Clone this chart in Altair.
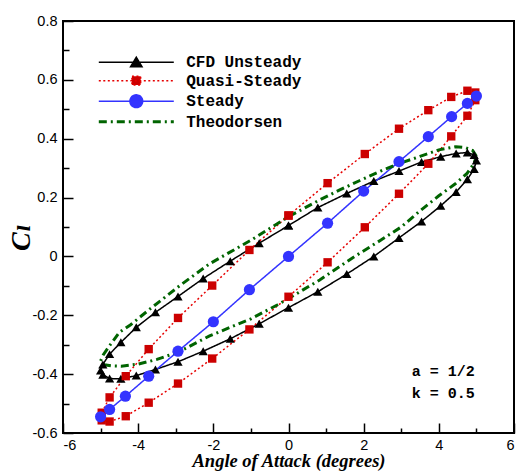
import altair as alt
import pandas as pd

series_names = ["CFD Unsteady", "Quasi-Steady", "Steady", "Theodorsen"]
line_colors = ["#000000", "#e60000", "#3333ff", "#006400"]
line_dashes = [[1, 0], [2, 2.5], [1, 0], [8, 4, 2, 4]]
marker_series = ["CFD Unsteady", "Quasi-Steady", "Steady"]
marker_colors = ["#000000", "#cc0000", "#3333ff"]
marker_shapes = ["triangle-up", "square", "circle"]
marker_sizes = [85, 70, 125]

cfd_alpha = [0, 0.78, 1.55, 2.27, 2.94, 3.54, 4.05, 4.46, 4.76, 4.94, 5.0, 4.94, 4.76, 4.46,
             4.05, 3.54, 2.94, 2.27, 1.55, 0.78, 0, -0.78, -1.55, -2.27, -2.94, -3.54, -4.05,
             -4.46, -4.76, -4.94, -5.0, -4.94, -4.76, -4.46, -4.05, -3.54, -2.94, -2.27, -1.55,
             -0.78, 0]
cfd_cl = [0.105, 0.166, 0.214, 0.256, 0.290, 0.321, 0.339, 0.350, 0.353, 0.345, 0.326, 0.297,
          0.262, 0.219, 0.172, 0.119, 0.063, 0.000, -0.060, -0.120, -0.174, -0.229, -0.280,
          -0.322, -0.358, -0.384, -0.405, -0.416, -0.415, -0.402, -0.388, -0.367, -0.332,
          -0.292, -0.241, -0.190, -0.136, -0.075, -0.016, 0.045, 0.105]

qs_alpha = [0, 1.04, 2.03, 2.94, 3.72, 4.33, 4.76, 4.97, 4.97, 4.76, 4.33, 3.72, 2.94, 2.03,
            1.04, 0, -1.04, -2.03, -2.94, -3.72, -4.33, -4.76, -4.97, -4.97, -4.76, -4.33,
            -3.72, -2.94, -2.03, -1.04, 0]
qs_cl = [0.139, 0.249, 0.348, 0.434, 0.497, 0.542, 0.563, 0.557, 0.531, 0.478, 0.408, 0.315,
         0.213, 0.099, -0.020, -0.137, -0.248, -0.347, -0.432, -0.497, -0.543, -0.561, -0.557,
         -0.531, -0.479, -0.407, -0.315, -0.209, -0.099, 0.022, 0.139]

st_alpha = [-5.0, -4.76, -4.34, -3.72, -2.94, -2.0, -1.04, 0, 1.04, 2.0, 2.94, 3.72, 4.34,
            4.76, 5.0]
st_cl = [-0.545, -0.520, -0.475, -0.407, -0.322, -0.222, -0.113, 0, 0.113, 0.222, 0.322,
         0.407, 0.475, 0.520, 0.545]

th_alpha = [5.0, 4.9, 4.7, 4.45, 4.0, 3.5, 3.0, 2.45, 1.9, 1.35, 0.8, 0.0, -1.0, -2.1, -2.9,
            -3.7, -4.2, -4.5, -4.77, -4.93, -5.0, -4.9, -4.7, -4.45, -4.0, -3.5, -2.9, -2.1,
            -1.0, -0.3, 0.0, 0.83, 1.7, 2.45, 3.0, 3.5, 4.0, 4.43, 4.75, 4.93, 5.0]
th_cl = [0.340, 0.360, 0.370, 0.373, 0.362, 0.340, 0.318, 0.290, 0.258, 0.225, 0.190, 0.135,
         0.055, -0.025, -0.100, -0.180, -0.232, -0.258, -0.305, -0.335, -0.355, -0.368,
         -0.372, -0.373, -0.366, -0.350, -0.323, -0.270, -0.212, -0.165, -0.143, -0.080,
         -0.005, 0.055, 0.100, 0.155, 0.206, 0.246, 0.282, 0.315, 0.340]

x_ticks = [-6, -4, -2, 0, 2, 4, 6]
x_minor = [-5, -3, -1, 1, 3, 5]
y_ticks = [-0.6, -0.4, -0.2, 0, 0.2, 0.4, 0.6, 0.8]
y_minor = [-0.5, -0.3, -0.1, 0.1, 0.3, 0.5, 0.7]

note_labels = ["a = 1/2", "k = 0.5"]
note_alpha = [3.28, 3.28]
note_cl = [-0.39, -0.465]


def frame(name, xs, ys):
    return pd.DataFrame({"series": name, "alpha": xs, "cl": ys, "idx": list(range(len(xs)))})


cfd_df = frame(series_names[0], cfd_alpha, cfd_cl)
qs_df = frame(series_names[1], qs_alpha, qs_cl)
st_df = frame(series_names[2], st_alpha, st_cl)
th_df = frame(series_names[3], th_alpha, th_cl)
lines_df = pd.concat([cfd_df, qs_df, st_df], ignore_index=True)
points_df = pd.concat([cfd_df, qs_df, st_df], ignore_index=True)
notes_df = pd.DataFrame({"label": note_labels, "alpha": note_alpha, "cl": note_cl})

x_scale = alt.Scale(domain=[-6, 6], nice=False, zero=False)
y_scale = alt.Scale(domain=[-0.6, 0.8], nice=False, zero=False)

# legend symbol: a line sample plus the series marker
sym_expr = (
    "datum.value == 'CFD Unsteady' ? 'M-5,0H5M0,-0.66L0.76,0.6L-0.76,0.6Z' : "
    "datum.value == 'Quasi-Steady' ? 'M-5,0H5M-0.58,-0.58H0.58V0.58H-0.58Z' : "
    "datum.value == 'Steady' ? 'M-5,0H5M-0.85,0A0.85,0.85,0,1,0,0.85,0A0.85,0.85,0,1,0,-0.85,0Z' : "
    "'M-5,0H5'"
)
fill_expr = (
    "datum.value == 'CFD Unsteady' ? '#000000' : "
    "datum.value == 'Quasi-Steady' ? '#cc0000' : "
    "datum.value == 'Steady' ? '#3333ff' : 'transparent'"
)

legend_lines = alt.Legend(
    title=None, orient="none", legendX=36.8, legendY=33.2, padding=0,
    symbolType=alt.ExprRef(expr=sym_expr), symbolSize=225,
    symbolFillColor=alt.ExprRef(expr=fill_expr),
    symbolStrokeWidth=alt.ExprRef(expr="datum.value == 'Theodorsen' ? 3 : 1.5"),
    symbolOffset=28.5, labelOffset=41.9, labelFont="Liberation Mono",
    labelFontWeight="bold", labelFontSize=16, labelColor="black", labelLimit=400,
    rowPadding=2.5,
)

stroke_enc = alt.Stroke("series:N", scale=alt.Scale(domain=series_names, range=line_colors),
                        legend=legend_lines)
dash_enc = alt.StrokeDash("series:N", scale=alt.Scale(domain=series_names, range=line_dashes),
                          legend=legend_lines)

minus_fix = "replace(datum.label, '\u2212', '-')"

main_x_axis = alt.Axis(
    orient="bottom", values=x_ticks, ticks=False, domain=False, grid=False,
    labelFont="Liberation Sans", labelFontSize=14.5, labelColor="black", labelPadding=5,
    labelExpr=minus_fix, format="d",
    title="Angle of Attack (degrees)", titleFont="Liberation Serif", titleFontStyle="italic",
    titleFontWeight="bold", titleFontSize=18.5, titleColor="black",
    titleX=225.5, titleY=33.5, titleBaseline="alphabetic", titleAlign="center",
)
main_y_axis = alt.Axis(
    orient="left", values=y_ticks, ticks=False, domain=False, grid=False,
    labelFont="Liberation Sans", labelFontSize=14.5, labelColor="black", labelPadding=6,
    format=".1~f", labelExpr=minus_fix,
    title="C\u2097", titleFont="Liberation Serif, DejaVu Serif, DejaVu Sans",
    titleFontStyle="italic", titleFontWeight="bold", titleFontSize=28, titleColor="black",
    titleAngle=270, titleX=-34, titleY=216, titleBaseline="alphabetic", titleAlign="center",
)


def tick_axis(orient, values, size):
    return alt.Axis(orient=orient, values=values, offset=-size, tickSize=size, tickWidth=1.5,
                    tickColor="black", labels=False, domain=False, grid=False, title=None)


lines = alt.Chart(lines_df).mark_line(strokeWidth=1.5).encode(
    x=alt.X("alpha:Q", scale=x_scale, axis=main_x_axis),
    y=alt.Y("cl:Q", scale=y_scale, axis=main_y_axis),
    stroke=stroke_enc, strokeDash=dash_enc, order=alt.Order("idx:Q"),
)

theo = alt.Chart(th_df).mark_line(strokeWidth=3).encode(
    x=alt.X("alpha:Q", scale=x_scale, axis=tick_axis("bottom", x_ticks, 10)),
    y=alt.Y("cl:Q", scale=y_scale, axis=tick_axis("left", y_ticks, 10)),
    stroke=stroke_enc, strokeDash=dash_enc, order=alt.Order("idx:Q"),
)

points = alt.Chart(points_df).mark_point(filled=True, opacity=1, strokeWidth=0).encode(
    x=alt.X("alpha:Q", scale=x_scale, axis=tick_axis("bottom", x_minor, 5)),
    y=alt.Y("cl:Q", scale=y_scale, axis=tick_axis("left", y_minor, 6)),
    fill=alt.Fill("series:N", scale=alt.Scale(domain=marker_series, range=marker_colors),
                  legend=None),
    shape=alt.Shape("series:N", scale=alt.Scale(domain=marker_series, range=marker_shapes),
                    legend=None),
    size=alt.Size("series:N", scale=alt.Scale(type="ordinal", domain=marker_series,
                                              range=marker_sizes), legend=None),
)

notes = alt.Chart(notes_df).mark_text(
    font="Liberation Mono", fontWeight="bold", fontSize=15, align="left",
    baseline="middle", color="black",
).encode(
    x=alt.X("alpha:Q", scale=x_scale, axis=None),
    y=alt.Y("cl:Q", scale=y_scale, axis=None),
    text="label:N",
)

chart = alt.layer(lines, theo, points, notes).resolve_axis(
    x="independent", y="independent"
).properties(
    width=451, height=412,
    padding={"left": 63, "top": 21, "right": 2, "bottom": 40},
    autosize=alt.AutoSizeParams(type="none"),
    background="white",
).configure_view(stroke="black", strokeWidth=2)

chart.save("out.html", embed_options={"renderer": "svg", "actions": False})
